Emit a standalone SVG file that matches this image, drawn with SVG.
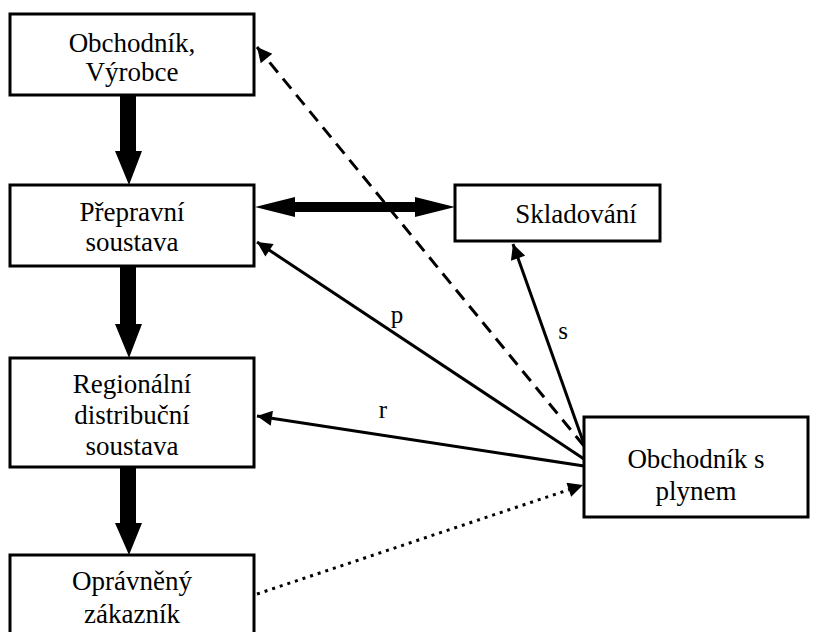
<svg xmlns="http://www.w3.org/2000/svg" width="819" height="632" viewBox="0 0 819 632">
<defs>
<style>
.box{fill:#fff;stroke:#000;stroke-width:3}
.t{font-size:27px;fill:#000;text-anchor:middle}
.lbl{font-size:25px;fill:#000;text-anchor:middle}
.thin{stroke:#000;stroke-width:3;fill:none}
.big{fill:#000}
</style>
<marker id="ah" viewBox="0 0 10 10" refX="10" refY="5" markerWidth="6" markerHeight="5" markerUnits="strokeWidth" orient="auto">
<path d="M0,0 L10,5 L0,10 z" fill="#000"/>
</marker>
</defs>
<rect width="819" height="632" fill="#fff"/>
<g id="connectors" font-family="'Liberation Serif', 'Times New Roman', 'DejaVu Serif', serif">
<path class="big" d="M120,95 H136 V151 H142 L129,185 L115,151 H120 Z"/>
<path class="big" d="M120,266 H136 V324 H142 L129,358 L115,324 H120 Z"/>
<path class="big" d="M120,467 H136 V523 H142 L129,555 L115,523 H120 Z"/>
<path class="big" d="M255,207 L295,197 V202 H415 V197 L455,207 L415,217 V212 H295 V217 Z"/>
<line class="thin" x1="584" y1="446" x2="257" y2="47" stroke-dasharray="13 8" marker-end="url(#ah)"/>
<line class="thin" x1="584" y1="444" x2="513" y2="244" marker-end="url(#ah)"/>
<line class="thin" x1="584" y1="459" x2="257" y2="242" marker-end="url(#ah)"/>
<line class="thin" x1="584" y1="466" x2="257" y2="416" marker-end="url(#ah)"/>
<line class="thin" x1="257" y1="594" x2="583" y2="485" stroke-dasharray="3 5" marker-end="url(#ah)"/>
<text class="lbl" x="397" y="323">p</text>
<text class="lbl" x="563" y="339">s</text>
<text class="lbl" x="383" y="418">r</text>
</g>
<g id="nodes" font-family="'Liberation Serif', 'Times New Roman', 'DejaVu Serif', serif">
<g id="n1">
<rect class="box" x="10" y="14" width="244" height="81"/>
<text class="t" x="132" y="52">Obchodník,</text>
<text class="t" x="132" y="81">Výrobce</text>
</g>
<g id="n2">
<rect class="box" x="10" y="185" width="244" height="81"/>
<text class="t" x="132" y="221">Přepravní</text>
<text class="t" x="132" y="251">soustava</text>
</g>
<g id="n3">
<rect class="box" x="10" y="358" width="244" height="109"/>
<text class="t" x="132" y="393">Regionální</text>
<text class="t" x="132" y="424">distribuční</text>
<text class="t" x="132" y="455">soustava</text>
</g>
<g id="n4">
<rect class="box" x="10" y="555" width="244" height="90"/>
<text class="t" x="132" y="590">Oprávněný</text>
<text class="t" x="132" y="623">zákazník</text>
</g>
<g id="n5">
<rect class="box" x="455" y="185" width="205" height="56"/>
<text class="t" x="576" y="223">Skladování</text>
</g>
<g id="n6">
<rect class="box" x="584" y="417" width="224" height="100"/>
<text class="t" x="696" y="468">Obchodník s</text>
<text class="t" x="696" y="500">plynem</text>
</g>
</g>
</svg>
